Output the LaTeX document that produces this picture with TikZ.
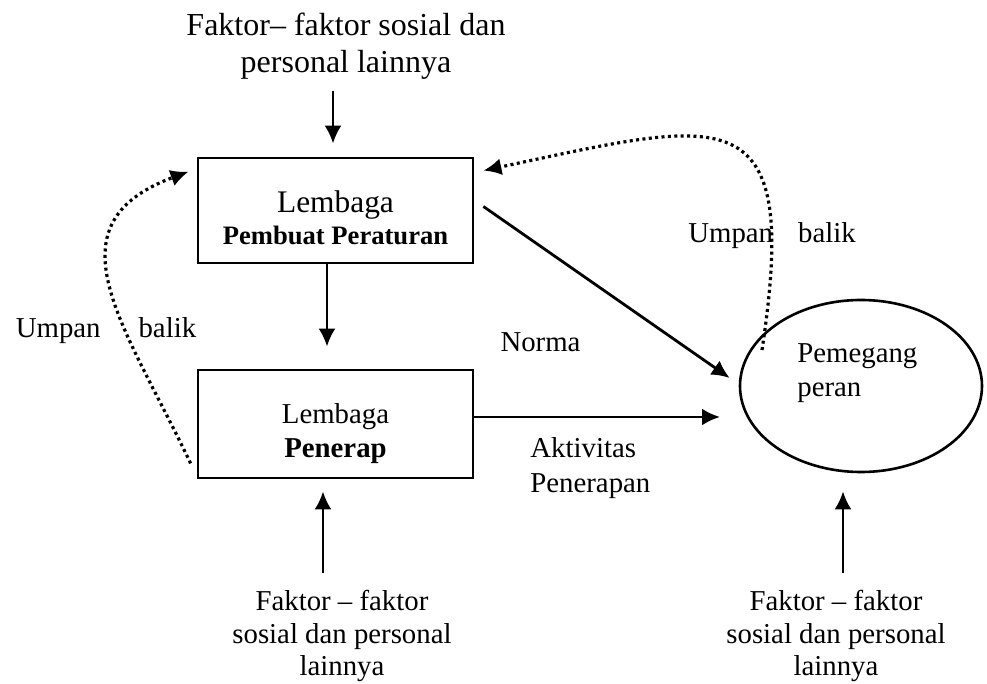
\documentclass[tikz,border=0pt]{standalone}
\usepackage{fontspec}
\setmainfont{Liberation Serif}
\usetikzlibrary{arrows.meta,shapes.geometric}

\begin{document}
\begin{tikzpicture}[x=0.5pt,y=-0.5pt,>={Latex[length=9pt,width=8.5pt]},line width=1.4pt,
  txt/.style={inner sep=0pt,font=\fontsize{14.4}{17}\selectfont},
  box/.style={draw,minimum width=137.5pt,inner sep=0pt},
  feedback/.style={->,line width=1.6pt,dash pattern=on 1.5pt off 1.7pt}]

\useasboundingbox (0,0) rectangle (987,684);

\node[txt,align=center,font=\fontsize{16}{18.5}\selectfont] (F_top) at (346,46) {Faktor– faktor sosial dan\\personal lainnya};

\node[box,minimum height=52.5pt] (L_top) at (335.5,210.5) {};
\node[txt,align=center,font=\fontsize{15.7}{16}\selectfont] (L_top_lbl) at (335.5,218) {Lembaga\\{\fontsize{13.3}{16}\selectfont\bfseries Pembuat Peraturan}};
\draw [->] ([xshift=-6.5pt,yshift=-5pt]F_top.south) -- ([xshift=-1.25pt,yshift=6.5pt]L_top.north);

\node[box,minimum height=54pt] (L_bottom) at (335.5,424) {};
\node[txt,align=center] (L_bottom_lbl) at (335.5,433.4) {Lembaga\\\textbf{Penerap}};
\draw [->] ([xshift=-4.25pt]L_top.south) -- ([xshift=-4.25pt,yshift=11pt]L_bottom.north);

\node[draw,ellipse,line width=1.3pt,inner sep=0pt,minimum width=121pt,minimum height=86pt] (P_right) at (861,386) {};
\node[txt,align=left,anchor=west] (P_right_lbl) at (796,373.4) {Pemegang\\peran};

\node[txt] (norma) at (540.5,342.5) {Norma};
\draw [->] ([xshift=4.5pt,yshift=2pt]L_top.east) -- ([xshift=-4.5pt,yshift=4pt]P_right.west);

\coordinate (A_end) at (720,417);
\node[txt,align=left,anchor=west,font=\fontsize{14.4}{17.5}\selectfont] (aktivitas) at (529,468) {Aktivitas\\Penerapan};
\draw [->] ([yshift=3.5pt]L_bottom.east) -- (A_end);

\node[txt,align=center,font=\fontsize{14.4}{16.25}\selectfont] (F_left) at (342,636) {Faktor – faktor\\sosial dan personal\\lainnya};
\draw [->] ([xshift=-9.5pt,yshift=8pt]F_left.north) -- ([xshift=-6.25pt,yshift=-6pt]L_bottom.south);

\node[txt,align=center,font=\fontsize{14.4}{16.25}\selectfont] (F_right) at (836,636) {Faktor – faktor\\sosial dan personal\\lainnya};
\draw [->] ([xshift=3.5pt,yshift=8pt]F_right.north) -- ([xshift=-9pt,yshift=-9pt]P_right.south);

\node[txt] (U_left) at (106,330.4) {Umpan\hspace{19pt}balik};
\draw [feedback] ([xshift=-3pt,yshift=8pt]L_bottom.south west) .. controls (125,325) and (45,225) .. ([xshift=-4pt,yshift=-7.5pt]L_top.north west);

\node[txt] (U_right) at (772,235.4) {Umpan\hspace{12.5pt}balik};
\coordinate (U_start) at (762,350);
\draw [feedback] (U_start) .. controls (801,93) and (726,119) .. ([xshift=4.5pt,yshift=-7pt]L_top.north east);

\end{tikzpicture}
\end{document}
